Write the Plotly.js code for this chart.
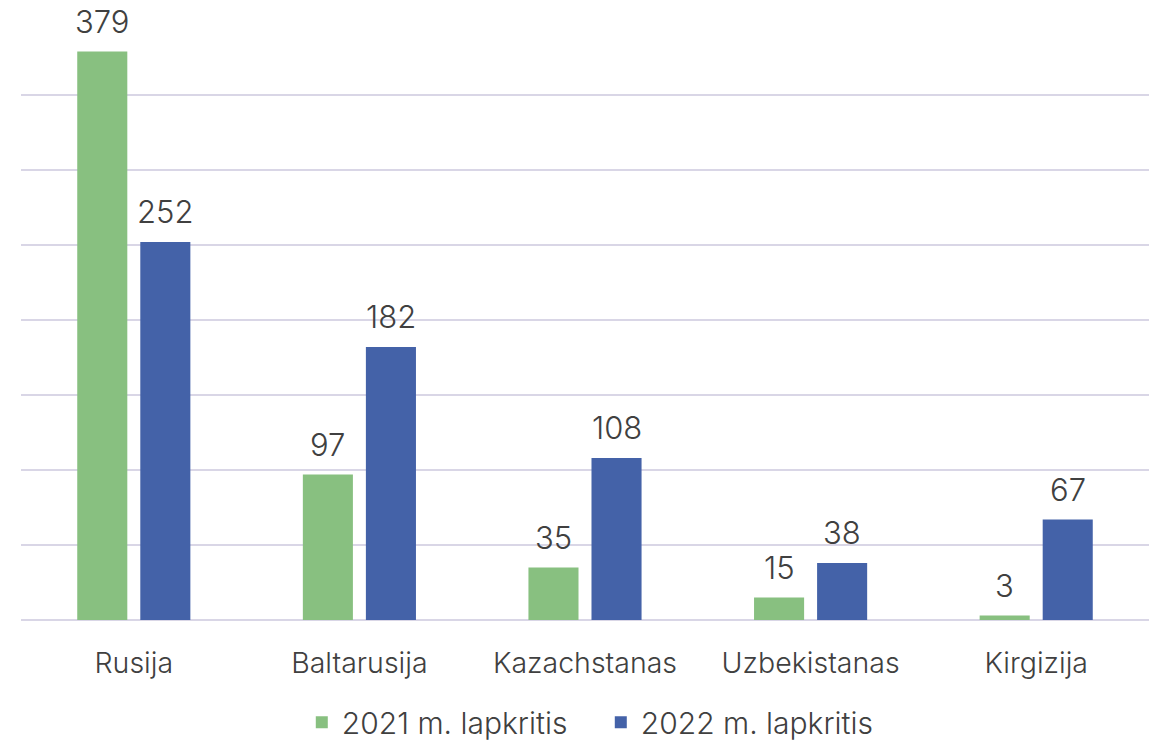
<!DOCTYPE html>
<html>
<head>
<meta charset="utf-8">
<script src="https://cdn.plot.ly/plotly-3.0.1.min.js"></script>
<style>html,body{margin:0;padding:0;background:#fff;}#chart{width:1153px;height:742px;}</style>
</head>
<body>
<div id="chart"></div>
<script>
var categories = ["Rusija", "Baltarusija", "Kazachstanas", "Uzbekistanas", "Kirgizija"];
var series2021 = [379, 97, 35, 15, 3];
var series2022 = [252, 182, 108, 38, 67];
var seriesNames = ["2021 m. lapkritis", "2022 m. lapkritis"];

var FONT = "Inter, Roboto, sans-serif";
var TXT = "#404040";
var W = 300;

var traces = [
  {type: "bar", x: categories, y: series2021, name: seriesNames[0],
   marker: {color: "#88c080"}, hoverinfo: "none"},
  {type: "bar", x: categories, y: series2022, name: seriesNames[1],
   marker: {color: "#4462a8"}, hoverinfo: "none"}
];

var annotations = [];
[series2021, series2022].forEach(function (s, si) {
  s.forEach(function (v, i) {
    annotations.push({
      x: categories[i], y: v, xref: "x", yref: "y",
      text: String(v), showarrow: false,
      xshift: si === 0 ? -31.5 : 31.5, yanchor: "bottom", yshift: 10,
      font: {family: FONT, size: 31, color: TXT, weight: W}
    });
  });
});

var layout = {
  width: 1153, height: 742,
  margin: {l: 21, r: 4, t: 20, b: 122, autoexpand: false},
  paper_bgcolor: "#fff", plot_bgcolor: "#fff",
  bargap: 0.441, bargroupgap: 0.206,
  showlegend: true,
  legend: {orientation: "h", x: 0.514, xanchor: "center", y: -0.127, yanchor: "top",
           font: {family: FONT, size: 30, color: TXT, weight: W}, itemwidth: 30,
           entrywidth: 254, entrywidthmode: "pixels"},
  xaxis: {type: "category", showgrid: false, zeroline: false, showline: false, automargin: false,
          ticks: "", ticklabelstandoff: 23, tickfont: {family: FONT, size: 28.5, color: TXT, weight: W}},
  yaxis: {range: [0, 400], dtick: 50, showticklabels: false, gridcolor: "#d9d6e6", automargin: false,
          gridwidth: 1.5, zeroline: true, zerolinecolor: "#d9d6e6", zerolinewidth: 2,
          showline: false, ticks: ""},
  annotations: annotations
};

Plotly.newPlot("chart", traces, layout, {displayModeBar: false, staticPlot: true});
</script>
</body>
</html>
